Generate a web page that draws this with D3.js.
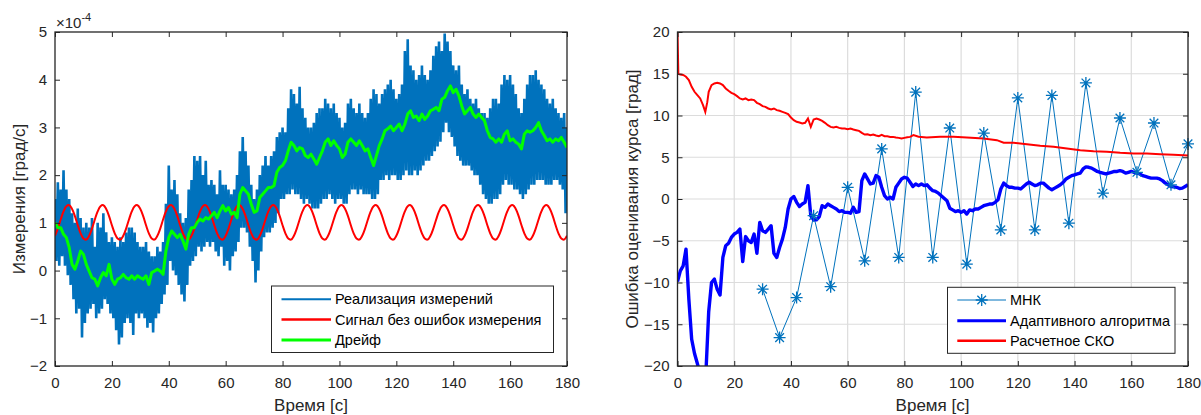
<!DOCTYPE html>
<html><head><meta charset="utf-8">
<script src="https://cdn.jsdelivr.net/npm/d3@7"></script>
<style>
html,body{margin:0;padding:0;background:#fff;}
svg{display:block;font-family:"Liberation Sans",Arial,Helvetica,sans-serif;}
</style></head>
<body>
<svg id="c" width="1201" height="415"></svg>
<script>
// ---------- DATA ----------
const timeSec = d3.range(0, 181);          // sample times, s (0..180)
const xTicks = [0,20,40,60,80,100,120,140,160,180];
const yTicksLeft = [-2,-1,0,1,2,3,4,5];    // ×10^-4
const yTicksRight = [-20,-15,-10,-5,0,5,10,15,20];

// Left: measurement realisation, per-second peak (upper) and dip (lower), ×10^-4 град/с
const measHi = [1.5,1.85,1.7,2.1,1.7,1.5,1.2,1.0,1.3,1.1,
0.9,1.0,0.9,1.1,0.5,1.0,0.9,1.2,0.8,0.6,
0.7,0.6,0.5,0.7,0.6,0.8,0.9,0.9,0.8,0.6,
0.5,0.5,0.6,0.4,0.3,0.3,0.5,0.4,0.6,1.4,
2.2,1.7,1.9,1.6,1.2,1.0,1.1,1.7,1.9,2.4,
2.3,2.4,2.0,2.3,1.8,1.9,1.8,1.6,2.1,1.8,
1.8,1.7,1.6,1.7,2.0,2.5,2.8,2.5,2.2,1.8,
1.5,1.7,2.0,2.2,2.4,2.2,2.4,2.5,2.8,2.9,
3.0,2.9,3.4,3.8,3.7,3.5,3.85,3.4,3.2,3.0,
3.0,3.1,3.3,3.4,3.4,3.6,3.5,3.4,3.5,3.3,
3.2,3.0,3.1,3.5,3.6,3.4,3.3,3.5,3.3,3.2,
3.3,3.6,3.8,3.7,3.5,3.7,3.8,3.9,4.0,3.8,
3.6,3.7,3.9,4.6,4.85,4.3,4.2,4.0,4.1,4.3,
4.1,4.0,4.2,4.5,4.7,4.8,4.6,4.97,4.8,4.6,
4.3,4.2,4.3,3.9,3.7,3.8,3.6,3.5,3.6,3.4,
3.3,3.3,3.2,3.4,3.6,3.6,3.5,3.9,4.1,4.0,
4.1,3.9,3.7,3.4,3.3,3.6,3.9,4.1,4.1,4.2,
4.0,3.9,3.8,3.6,3.5,3.6,3.4,3.3,3.2,3.3,3.0];
const measLo = [0.2,0.1,0.3,0.1,-0.1,-0.3,-0.6,-0.9,-0.8,-1.4,
-1.1,-0.9,-0.8,-0.7,-1.0,-0.9,-0.8,-0.6,-0.7,-0.9,
-1.0,-1.25,-1.55,-1.4,-1.1,-1.0,-1.1,-1.35,-0.9,-1.0,
-0.9,-1.0,-1.2,-1.1,-1.3,-1.0,-0.9,-0.7,-0.5,-0.3,
0.2,0.0,-0.1,-0.3,-0.5,-0.65,-0.3,0.1,0.2,0.3,
0.5,0.4,0.5,0.6,0.5,0.6,0.4,0.3,0.5,0.1,
0.2,0.0,0.3,0.4,0.6,0.9,0.9,0.8,0.5,0.2,
-0.25,0.0,0.4,0.7,0.8,0.8,0.9,1.0,1.2,1.5,
1.5,1.6,1.6,1.7,1.6,1.6,1.5,1.4,1.5,1.4,
1.3,1.3,1.3,1.4,1.5,1.5,1.6,1.5,1.4,1.5,
1.5,1.4,1.4,1.6,1.7,1.7,1.6,1.7,1.6,1.6,
1.6,1.5,1.5,1.6,1.9,1.9,2.0,1.9,2.0,2.0,
1.9,1.9,2.0,2.1,2.0,2.0,2.1,2.0,2.1,2.2,
2.3,2.3,2.4,2.5,2.6,2.7,2.9,3.1,2.9,2.8,
2.6,2.4,2.3,2.2,2.2,2.2,2.1,2.0,2.0,1.8,
1.6,1.5,1.4,1.4,1.5,1.5,1.6,1.8,1.9,1.8,
1.8,1.7,1.7,1.6,1.5,1.6,1.7,1.8,1.8,1.9,
1.9,1.9,1.8,1.8,1.8,1.9,1.9,1.8,1.7,1.2,1.6];

// Left: signal without measurement errors, ×10^-4
const signalVal = [
0.73,0.88,1.07,1.24,1.35,1.37,1.29,1.14,0.95,0.78,0.67,0.65,
0.73,0.88,1.07,1.24,1.35,1.37,1.29,1.14,0.95,0.78,0.67,0.65,
0.73,0.88,1.07,1.24,1.35,1.37,1.29,1.14,0.95,0.78,0.67,0.65,
0.73,0.88,1.07,1.24,1.35,1.37,1.29,1.14,0.95,0.78,0.67,0.65,
0.73,0.88,1.07,1.24,1.35,1.37,1.29,1.14,0.95,0.78,0.67,0.65,
0.73,0.88,1.07,1.24,1.35,1.37,1.29,1.14,0.95,0.78,0.67,0.65,
0.73,0.88,1.07,1.24,1.35,1.37,1.29,1.14,0.95,0.78,0.67,0.65,
0.73,0.88,1.07,1.24,1.35,1.37,1.29,1.14,0.95,0.78,0.67,0.65,
0.73,0.88,1.07,1.24,1.35,1.37,1.29,1.14,0.95,0.78,0.67,0.65,
0.73,0.88,1.07,1.24,1.35,1.37,1.29,1.14,0.95,0.78,0.67,0.65,
0.73,0.88,1.07,1.24,1.35,1.37,1.29,1.14,0.95,0.78,0.67,0.65,
0.73,0.88,1.07,1.24,1.35,1.37,1.29,1.14,0.95,0.78,0.67,0.65,
0.73,0.88,1.07,1.24,1.35,1.37,1.29,1.14,0.95,0.78,0.67,0.65,
0.73,0.88,1.07,1.24,1.35,1.37,1.29,1.14,0.95,0.78,0.67,0.65,
0.73,0.88,1.07,1.24,1.35,1.37,1.29,1.14,0.95,0.78,0.67,0.65,
0.73];

// Left: drift, ×10^-4
const driftVal = [1.01,0.90,0.90,0.76,0.69,0.48,0.13,0.03,0.20,0.41,
0.34,0.13,-0.01,-0.15,-0.18,-0.32,-0.15,-0.04,-0.11,0.13,
-0.18,-0.29,-0.18,-0.15,-0.08,-0.15,-0.18,-0.11,-0.18,-0.11,
-0.15,-0.18,-0.11,-0.29,-0.04,-0.01,0.03,-0.01,-0.08,0.41,
0.69,0.83,0.76,0.69,0.76,0.62,0.45,0.76,0.90,0.90,
1.01,1.08,1.04,1.11,1.08,1.15,1.22,1.11,1.25,1.36,
1.25,1.32,1.18,1.22,1.11,1.60,1.74,1.67,1.60,1.39,
1.22,1.25,1.53,1.60,1.67,1.74,1.74,1.78,2.06,2.16,
2.20,2.30,2.51,2.69,2.62,2.51,2.58,2.55,2.41,2.37,
2.44,2.34,2.23,2.37,2.51,2.69,2.76,2.62,2.72,2.62,
2.55,2.37,2.44,2.69,2.76,2.69,2.62,2.72,2.62,2.51,
2.55,2.37,2.20,2.41,2.62,2.76,2.93,2.97,3.03,2.93,
3.00,3.07,2.93,3.07,3.28,3.35,3.21,3.24,3.14,3.28,
3.17,3.24,3.35,3.38,3.42,3.35,3.59,3.63,3.77,3.87,
3.73,3.80,3.66,3.45,3.28,3.35,3.42,3.28,3.21,3.28,
3.21,3.14,2.93,2.79,2.76,2.69,2.76,2.69,2.86,2.93,
2.72,2.76,2.69,2.65,2.55,2.86,2.93,2.90,2.93,3.00,
3.10,2.93,2.83,2.72,2.76,2.69,2.76,2.72,2.79,2.69,2.58];

// Right: МНК estimates (every 6 s), град
const mnkTime = [30,36,42,48,54,60,66,72,78,84,90,96,102,108,114,120,126,132,138,144,150,156,162,168,174,180];
const mnkVal  = [-10.8,-16.6,-11.8,-2.0,-10.5,1.4,-7.4,6.0,-7.0,12.8,-7.0,8.5,-7.8,7.9,-3.7,12.1,-3.7,12.4,-2.9,13.9,0.7,9.7,3.2,9.1,1.7,6.6];

// Right: adaptive algorithm error, град (1 s samples)
const adaptVal = [-9.9,-8.6,-8.0,-6.0,-12.0,-16.8,-18.5,-19.7,-21,-22,
-21,-13.5,-10.0,-9.6,-10.8,-11.5,-7.0,-5.6,-5.3,-4.6,
-4.2,-4.0,-3.6,-7.5,-4.5,-5.0,-5.2,-4.2,-6.5,-2.8,
-3.8,-4.0,-3.6,-3.2,-6.5,-7.0,-5.8,-4.8,-3.4,-1.2,
0.0,0.3,-0.4,-0.9,-0.6,-0.4,1.6,-2.0,-2.5,-2.5,
-2.1,-0.8,-1.0,-0.6,-0.8,-1.0,-1.2,-1.5,-1.4,-1.6,
-1.6,-1.7,-1.0,-1.6,-1.5,2.2,3.0,2.4,1.8,1.9,
2.8,2.6,1.4,0.4,0.0,0.2,0.0,1.4,1.9,2.4,
2.6,2.5,2.0,1.5,1.8,1.6,1.8,1.6,1.7,1.3,
1.0,0.9,0.7,0.4,0.1,-0.2,-1.1,-1.3,-1.5,-1.4,
-1.6,-1.4,-1.8,-1.3,-1.4,-1.2,-1.2,-1.0,-0.8,-0.7,
-0.6,-0.6,-0.4,-0.1,1.2,1.9,1.6,1.4,1.4,1.3,
1.3,1.2,1.5,1.8,2.0,1.8,1.6,1.7,1.9,1.9,
1.6,1.3,1.1,1.3,1.5,1.7,2.0,2.4,2.6,2.8,
2.9,3.0,3.1,3.6,3.85,3.8,3.7,3.5,3.3,3.2,
3.1,3.0,3.1,3.2,3.3,3.3,3.4,3.3,3.1,3.2,
3.3,3.2,3.1,3.0,2.8,2.7,2.6,2.5,2.5,2.5,
2.4,2.2,1.9,1.7,1.5,1.45,1.4,1.25,1.3,1.5,1.7];

// Right: computed RMS (СКО), град
const skoTime = [0,0.3,1,2,3,4,5,6,7,8,9,9.8,10.5,11,12,13,14,15,16,17,18,19,20,
21,22,23,24,25,26,27,28,29,30,31,32,33,34,35,36,37,38,39,40,41,42,43,44,45,46,47,48,49,50,
51,52,53,54,55,56,57,58,59,60,61,62,63,64,65,66,67,68,69,70,71,72,73,74,75,76,77,78,79,80,81,82,
83.2,85,87.9,92.6,97.3,102,107.9,112.6,115,118.5,123.2,127.9,132.6,137.3,142,146.7,151.4,156.1,160.8,165.5,170.2,174.9,180];
const skoVal = [20,15.0,14.9,14.85,14.64,14.24,13.44,12.84,12.44,12.04,11.24,10.44,11.6,12.84,13.64,13.84,13.92,13.84,13.64,13.24,12.96,12.72,12.56,
12.32,12.04,11.92,12.04,11.84,11.92,11.84,11.52,11.36,11.12,11.04,10.84,10.72,10.84,10.64,10.56,10.44,10.32,10.16,9.76,9.44,9.24,9.16,9.04,9.12,9.64,8.64,9.52,9.64,9.52,
9.36,9.12,8.84,8.64,8.56,8.64,8.52,8.44,8.44,8.36,8.44,8.32,8.24,8.16,7.92,7.72,7.76,7.64,7.72,7.6,7.52,7.68,7.52,7.52,7.44,7.44,7.36,7.32,7.24,7.32,7.4,7.44,
7.65,7.45,7.37,7.45,7.45,7.37,7.25,7.05,6.73,6.73,6.57,6.37,6.25,6.05,5.85,5.73,5.65,5.53,5.45,5.45,5.37,5.29,5.2];

// ---------- DRAW ----------
const svg = d3.select("#c");
const axisCol = "#262626";
const FONT_TICK = 15, FONT_LEG = 14.5, FONT_LAB = 17;

function grid(g, x, y, yTicks) {
  const [x0,x1] = x.range(), [y0,y1] = y.range();
  g.append("g").selectAll("line").data(xTicks).join("line")
    .attr("x1", d=>x(d)).attr("x2", d=>x(d)).attr("y1", y1).attr("y2", y0)
    .attr("stroke", "#dcdcdc").attr("stroke-width", 1.2);
  g.append("g").selectAll("line").data(yTicks).join("line")
    .attr("x1", x0).attr("x2", x1).attr("y1", d=>y(d)).attr("y2", d=>y(d))
    .attr("stroke", "#dcdcdc").attr("stroke-width", 1.2);
}
function axes(g, x, y, yTicks, fmtY) {
  const [x0,x1] = x.range(), [y0,y1] = y.range();
  const style = sel => {
    sel.select(".domain").remove();
    sel.selectAll("line").attr("stroke", axisCol).attr("stroke-width", 1);
    sel.selectAll("text").attr("fill", axisCol).attr("font-size", FONT_TICK)
      .attr("font-family", '"Liberation Sans",Arial,sans-serif');
  };
  g.append("g").attr("transform", `translate(0,${y0})`)
    .call(d3.axisBottom(x).tickValues(xTicks).tickSize(-5).tickPadding(11).tickFormat(d3.format("d"))).call(style);
  g.append("g").attr("transform", `translate(0,${y1})`)
    .call(d3.axisTop(x).tickValues(xTicks).tickSize(-5).tickFormat("")).call(style);
  g.append("g").attr("transform", `translate(${x0},0)`)
    .call(d3.axisLeft(y).tickValues(yTicks).tickSize(-5).tickPadding(8).tickFormat(fmtY)).call(style);
  g.append("g").attr("transform", `translate(${x1},0)`)
    .call(d3.axisRight(y).tickValues(yTicks).tickSize(-5).tickFormat("")).call(style);
  g.append("rect").attr("x", x0).attr("y", y1).attr("width", x1-x0).attr("height", y0-y1)
    .attr("fill", "none").attr("stroke", axisCol).attr("stroke-width", 1.3);
}
function clip(id, x, y) {
  const [x0,x1] = x.range(), [y0,y1] = y.range();
  svg.append("clipPath").attr("id", id).append("rect")
    .attr("x", x0).attr("y", y1).attr("width", x1-x0).attr("height", y0-y1);
}

// ===== LEFT =====
const xL = d3.scaleLinear([0,180],[55,567]);
const yL = d3.scaleLinear([-2,5],[366,32]);
clip("clipL", xL, yL);
const gL = svg.append("g");
const pL = gL.append("g").attr("clip-path","url(#clipL)");

// measurement realisation: dense zig-zag between per-second peaks and dips
const zig = [];
timeSec.forEach(i => {
  zig.push([i, measHi[i]]);
  if (i < 180) zig.push([i + 0.5, measLo[i]]);
});
pL.append("path").datum(zig)
  .attr("d", d3.line().x(d=>xL(d[0])).y(d=>yL(d[1])))
  .attr("fill","none").attr("stroke", "#0072BD").attr("stroke-width", 2.6).attr("stroke-linejoin","bevel");
pL.append("path").datum(timeSec)
  .attr("d", d3.line().x(d=>xL(d)).y(d=>yL(signalVal[d])).curve(d3.curveCatmullRom))
  .attr("fill","none").attr("stroke","#FF0000").attr("stroke-width",2);
pL.append("path").datum(timeSec)
  .attr("d", d3.line().x(d=>xL(d)).y(d=>yL(driftVal[d])))
  .attr("fill","none").attr("stroke","#00FF00").attr("stroke-width",3).attr("stroke-linejoin","round");
axes(gL, xL, yL, yTicksLeft, d3.format("d"));

// exponent
const ex = gL.append("text").attr("x", 56).attr("y", 28).attr("fill", axisCol).attr("font-size", FONT_TICK);
ex.append("tspan").text("×10");
ex.append("tspan").attr("dy", -7).attr("font-size", 11).text("-4");

// labels
gL.append("text").attr("x", 311).attr("y", 411).attr("text-anchor","middle")
  .attr("font-size", FONT_LAB).attr("fill", axisCol).text("Время [с]");
gL.append("text").attr("transform","translate(25,199) rotate(-90)").attr("text-anchor","middle")
  .attr("font-size", FONT_LAB).attr("fill", axisCol).text("Измерения [град/с]");

// legend left
const legL = [
  {name:"Реализация измерений", color:"#0072BD", w:2},
  {name:"Сигнал без ошибок измерения", color:"#FF0000", w:2.5},
  {name:"Дрейф", color:"#00FF00", w:3}
];
const lgL = gL.append("g");
lgL.append("rect").attr("x",271.5).attr("y",286).attr("width",282).attr("height",66.5)
  .attr("fill","#fff").attr("stroke", axisCol).attr("stroke-width",1);
const rowYL = [299.3, 319.5, 340];
legL.forEach((d,i)=>{
  lgL.append("line").attr("x1",281.5).attr("x2",331).attr("y1",rowYL[i]).attr("y2",rowYL[i])
    .attr("stroke",d.color).attr("stroke-width",d.w);
  lgL.append("text").attr("x",335).attr("y",rowYL[i]).attr("dy","0.35em")
    .attr("font-size",FONT_LEG).attr("fill","#000").text(d.name);
});

// ===== RIGHT =====
const xR = d3.scaleLinear([0,180],[677.5,1188]);
const yR = d3.scaleLinear([-20,20],[366,32]);
clip("clipR", xR, yR);
const gR = svg.append("g");
grid(gR, xR, yR, yTicksRight);
const pR = gR.append("g").attr("clip-path","url(#clipR)");

pR.append("path").datum(mnkTime.map((t,i)=>[t,mnkVal[i]]))
  .attr("d", d3.line().x(d=>xR(d[0])).y(d=>yR(d[1])))
  .attr("fill","none").attr("stroke","#0072BD").attr("stroke-width",1);
pR.append("path").datum(timeSec)
  .attr("d", d3.line().x(d=>xR(d)).y(d=>yR(adaptVal[d])))
  .attr("fill","none").attr("stroke","#0000FF").attr("stroke-width",3.4).attr("stroke-linejoin","round");
pR.append("path").datum(skoTime.map((t,i)=>[t,skoVal[i]]))
  .attr("d", d3.line().x(d=>xR(d[0])).y(d=>yR(d[1])))
  .attr("fill","none").attr("stroke","#FF0000").attr("stroke-width",2);

const starR = 6, starD = starR*0.72;
const starPath = `M${-starR},0L${starR},0M0,${-starR}L0,${starR}M${-starD},${-starD}L${starD},${starD}M${-starD},${starD}L${starD},${-starD}`;
gR.append("g").selectAll("path").data(mnkTime.map((t,i)=>[t,mnkVal[i]])).join("path")
  .attr("transform", d=>`translate(${xR(d[0])},${yR(d[1])})`)
  .attr("d", starPath).attr("fill","none").attr("stroke","#0072BD").attr("stroke-width",1.3);

axes(gR, xR, yR, yTicksRight, d3.format("d"));

gR.append("text").attr("x", 932.5).attr("y", 411).attr("text-anchor","middle")
  .attr("font-size", FONT_LAB).attr("fill", axisCol).text("Время [с]");
gR.append("text").attr("transform","translate(638,199) rotate(-90)").attr("text-anchor","middle")
  .attr("font-size", FONT_LAB).attr("fill", axisCol).text("Ошибка оценивания курса [град]");

// legend right
const legR = [
  {name:"МНК", color:"#0072BD", w:1, star:true},
  {name:"Адаптивного алгоритма", color:"#0000FF", w:3},
  {name:"Расчетное СКО", color:"#FF0000", w:2.5}
];
const lgR = gR.append("g");
lgR.append("rect").attr("x",947.5).attr("y",287.3).attr("width",227.5).attr("height",66)
  .attr("fill","#fff").attr("stroke", axisCol).attr("stroke-width",1);
const rowYR = [300, 320.7, 340.7];
legR.forEach((d,i)=>{
  lgR.append("line").attr("x1",957.3).attr("x2",1006).attr("y1",rowYR[i]).attr("y2",rowYR[i])
    .attr("stroke",d.color).attr("stroke-width",d.w);
  if (d.star) lgR.append("path").attr("transform",`translate(981.7,${rowYR[i]})`)
    .attr("d",starPath).attr("fill","none").attr("stroke",d.color).attr("stroke-width",1.3);
  lgR.append("text").attr("x",1010).attr("y",rowYR[i]).attr("dy","0.35em")
    .attr("font-size",FONT_LEG).attr("fill","#000").text(d.name);
});
</script>
</body></html>
